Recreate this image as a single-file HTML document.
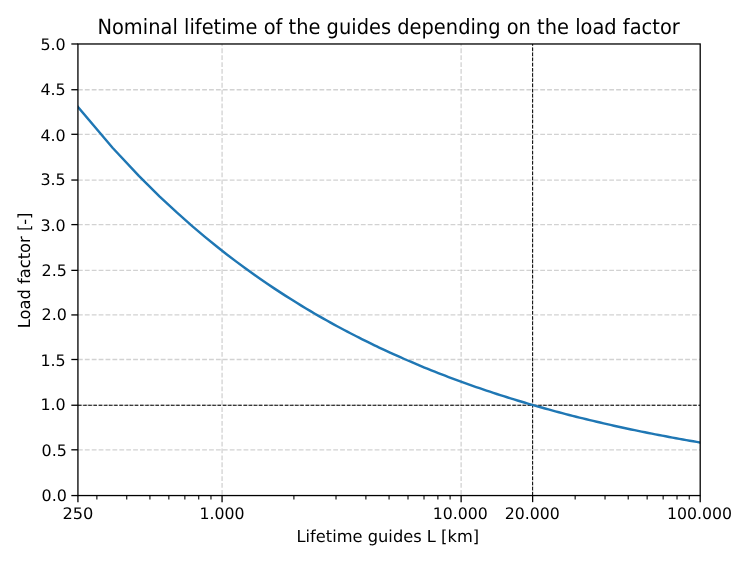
<!DOCTYPE html>
<html lang="en">
<head>
<meta charset="utf-8">
<title>Nominal lifetime of the guides depending on the load factor</title>
<style>
html,body{margin:0;padding:0;background:#ffffff;}
body{width:750px;height:563px;overflow:hidden;}
svg{display:block;}
text{font-family:"DejaVu Sans","Liberation Sans",sans-serif;fill:#000000;}
.tk{font-size:16.28px;}
.ti{font-size:19.53px;}
</style>
</head>
<body>
<svg width="750" height="563" viewBox="0 0 750 563">
<rect x="0" y="0" width="750" height="563" fill="#ffffff"/>
<defs><clipPath id="ax"><rect x="77.93" y="43.98" width="622.27" height="451.57"/></clipPath></defs>
<g stroke="#d2d2d2" stroke-width="1.3" stroke-dasharray="4.82 2.08" fill="none" clip-path="url(#ax)">
<line x1="222.07" y1="494.76" x2="222.07" y2="43.98"/>
<line x1="461.13" y1="494.76" x2="461.13" y2="43.98"/>
<line x1="532.62" y1="494.76" x2="532.62" y2="43.98"/>
<line x1="77.93" y1="449.81" x2="700.2" y2="449.81"/>
<line x1="77.93" y1="405.24" x2="700.2" y2="405.24"/>
<line x1="77.93" y1="359.5" x2="700.2" y2="359.5"/>
<line x1="77.93" y1="314.93" x2="700.2" y2="314.93"/>
<line x1="77.93" y1="270.36" x2="700.2" y2="270.36"/>
<line x1="77.93" y1="224.61" x2="700.2" y2="224.61"/>
<line x1="77.93" y1="180.04" x2="700.2" y2="180.04"/>
<line x1="77.93" y1="134.3" x2="700.2" y2="134.3"/>
<line x1="77.93" y1="89.73" x2="700.2" y2="89.73"/>
</g>
<g stroke="#000000" stroke-width="1.2" stroke-dasharray="3.61 1.56" fill="none" clip-path="url(#ax)">
<line x1="77.93" y1="405.24" x2="700.2" y2="405.24"/>
<line stroke-width="1" x1="532.62" y1="495.56" x2="532.62" y2="43.98"/>
</g>
<polyline clip-path="url(#ax)" fill="none" stroke="#1f77b4" stroke-width="2.44" stroke-linejoin="round" stroke-linecap="square" points="77.81,106.76 112.76,147.97 138.86,175.88 159.7,196.54 177.05,212.71 191.91,225.87 204.91,236.88 216.46,246.28 226.86,254.45 236.31,261.64 244.97,268.04 252.96,273.79 260.38,279.01 267.31,283.76 273.8,288.12 279.91,292.14 285.68,295.87 291.15,299.34 296.35,302.57 301.29,305.61 306.01,308.46 310.53,311.15 314.86,313.69 319.01,316.09 323.01,318.37 326.85,320.54 330.56,322.61 334.15,324.58 337.61,326.47 340.96,328.27 344.2,330 347.35,331.66 350.41,333.26 353.37,334.79 356.26,336.27 359.07,337.7 361.8,339.07 364.46,340.4 367.06,341.69 369.59,342.93 372.07,344.13 374.48,345.3 376.84,346.43 379.15,347.53 381.41,348.6 383.62,349.63 385.78,350.64 387.9,351.62 389.98,352.57 393.42,354.14 396.87,355.69 400.32,357.23 403.76,358.75 407.21,360.25 410.65,361.73 414.1,363.2 417.54,364.65 420.99,366.09 424.43,367.51 427.88,368.91 431.33,370.3 434.77,371.67 438.22,373.03 441.66,374.38 445.11,375.7 448.55,377.02 452,378.32 455.44,379.6 458.89,380.88 462.34,382.13 465.78,383.38 469.23,384.61 472.67,385.82 476.12,387.03 479.56,388.21 483.01,389.39 486.45,390.56 489.9,391.71 493.35,392.84 496.79,393.97 500.24,395.08 503.68,396.18 507.13,397.27 510.57,398.35 514.02,399.42 517.46,400.47 520.91,401.51 524.36,402.54 527.8,403.56 531.25,404.57 534.69,405.57 538.14,406.55 541.58,407.53 545.03,408.49 548.47,409.44 551.92,410.39 555.37,411.32 558.81,412.24 562.26,413.15 565.7,414.06 569.15,414.95 572.59,415.83 576.04,416.7 579.48,417.57 582.93,418.42 586.38,419.27 589.82,420.1 593.27,420.93 596.71,421.74 600.16,422.55 603.6,423.35 607.05,424.14 610.49,424.92 613.94,425.7 617.38,426.46 620.83,427.22 624.28,427.96 627.72,428.7 631.17,429.44 634.61,430.16 638.06,430.87 641.5,431.58 644.95,432.28 648.39,432.97 651.84,433.66 655.29,434.33 658.73,435 662.18,435.67 665.62,436.32 669.07,436.97 672.51,437.61 675.96,438.24 679.4,438.87 682.85,439.49 686.3,440.1 689.74,440.71 693.19,441.31 696.63,441.9 700.08,442.49"/>
<g stroke="#000000" stroke-width="1.3" fill="none">
<line x1="77.93" y1="495.56" x2="77.93" y2="502.15"/>
<line x1="222.07" y1="495.56" x2="222.07" y2="502.15"/>
<line x1="461.13" y1="495.56" x2="461.13" y2="502.15"/>
<line x1="532.62" y1="495.56" x2="532.62" y2="502.15"/>
<line x1="700.2" y1="495.56" x2="700.2" y2="502.15"/>
<line x1="77.93" y1="495.56" x2="71.33" y2="495.56"/>
<line x1="77.93" y1="449.81" x2="71.33" y2="449.81"/>
<line x1="77.93" y1="405.24" x2="71.33" y2="405.24"/>
<line x1="77.93" y1="359.5" x2="71.33" y2="359.5"/>
<line x1="77.93" y1="314.93" x2="71.33" y2="314.93"/>
<line x1="77.93" y1="270.36" x2="71.33" y2="270.36"/>
<line x1="77.93" y1="224.61" x2="71.33" y2="224.61"/>
<line x1="77.93" y1="180.04" x2="71.33" y2="180.04"/>
<line x1="77.93" y1="134.3" x2="71.33" y2="134.3"/>
<line x1="77.93" y1="89.73" x2="71.33" y2="89.73"/>
<line x1="77.93" y1="43.98" x2="71.33" y2="43.98"/>
</g>
<g stroke="#000000" stroke-width="1.1" fill="none">
<line x1="96.87" y1="495.56" x2="96.87" y2="499.46"/>
<line x1="126.74" y1="495.56" x2="126.74" y2="499.46"/>
<line x1="149.92" y1="495.56" x2="149.92" y2="499.46"/>
<line x1="168.85" y1="495.56" x2="168.85" y2="499.46"/>
<line x1="184.86" y1="495.56" x2="184.86" y2="499.46"/>
<line x1="198.73" y1="495.56" x2="198.73" y2="499.46"/>
<line x1="210.97" y1="495.56" x2="210.97" y2="499.46"/>
<line x1="293.9" y1="495.56" x2="293.9" y2="499.46"/>
<line x1="336.01" y1="495.56" x2="336.01" y2="499.46"/>
<line x1="365.89" y1="495.56" x2="365.89" y2="499.46"/>
<line x1="389.06" y1="495.56" x2="389.06" y2="499.46"/>
<line x1="408" y1="495.56" x2="408" y2="499.46"/>
<line x1="424.01" y1="495.56" x2="424.01" y2="499.46"/>
<line x1="437.88" y1="495.56" x2="437.88" y2="499.46"/>
<line x1="450.11" y1="495.56" x2="450.11" y2="499.46"/>
<line x1="575.15" y1="495.56" x2="575.15" y2="499.46"/>
<line x1="605.03" y1="495.56" x2="605.03" y2="499.46"/>
<line x1="628.21" y1="495.56" x2="628.21" y2="499.46"/>
<line x1="647.14" y1="495.56" x2="647.14" y2="499.46"/>
<line x1="663.15" y1="495.56" x2="663.15" y2="499.46"/>
<line x1="677.02" y1="495.56" x2="677.02" y2="499.46"/>
<line x1="689.25" y1="495.56" x2="689.25" y2="499.46"/>
</g>
<rect x="77.93" y="43.98" width="622.27" height="451.57" fill="none" stroke="#000000" stroke-width="1.3" stroke-linejoin="miter"/>
<g class="tk" text-anchor="end">
<text transform="translate(66.91 500.7) skewX(0.05) scale(0.980 0.98)">0.0</text>
<text transform="translate(66.91 456.13) skewX(0.05) scale(0.980 0.98)">0.5</text>
<text transform="translate(65.74 410.39) skewX(0.05) scale(0.980 0.98)">1.0</text>
<text transform="translate(65.74 365.82) skewX(0.05) scale(0.980 0.98)">1.5</text>
<text transform="translate(66.91 320.07) skewX(0.05) scale(0.980 0.98)">2.0</text>
<text transform="translate(66.91 275.5) skewX(0.05) scale(0.980 0.98)">2.5</text>
<text transform="translate(65.74 230.93) skewX(0.05) scale(0.980 0.98)">3.0</text>
<text transform="translate(65.74 185.19) skewX(0.05) scale(0.980 0.98)">3.5</text>
<text transform="translate(65.74 140.62) skewX(0.05) scale(0.980 0.98)">4.0</text>
<text transform="translate(65.74 94.87) skewX(0.05) scale(0.980 0.98)">4.5</text>
<text transform="translate(65.74 50.3) skewX(0.05) scale(0.980 0.98)">5.0</text>
</g>
<g class="tk" text-anchor="middle">
<text transform="translate(77.93 518.62) skewX(0.05) scale(1.000 0.98)">250</text>
<text transform="translate(222.07 518.62) skewX(0.05) scale(0.968 0.98)">1.000</text>
<text transform="translate(460.33 518.62) skewX(0.05) scale(0.968 0.98)">10.000</text>
<text transform="translate(532.32 518.62) skewX(0.05) scale(0.968 0.98)">20.000</text>
<text transform="translate(699.5 518.62) skewX(0.05) scale(0.968 0.98)">100.000</text>
<text transform="translate(387.76 541.6) skewX(0.05) scale(1 1.02)">Lifetime guides L [km]</text>
<text transform="translate(29.7 270.37) rotate(-90) skewX(0.05) scale(1 1.02)">Load factor [-]</text>
</g>
<text class="ti" text-anchor="middle" transform="translate(388.61 34.22) skewX(0.05) scale(0.996 1.08)">Nominal lifetime of the guides depending on the load factor</text>
</svg>
</body>
</html>
